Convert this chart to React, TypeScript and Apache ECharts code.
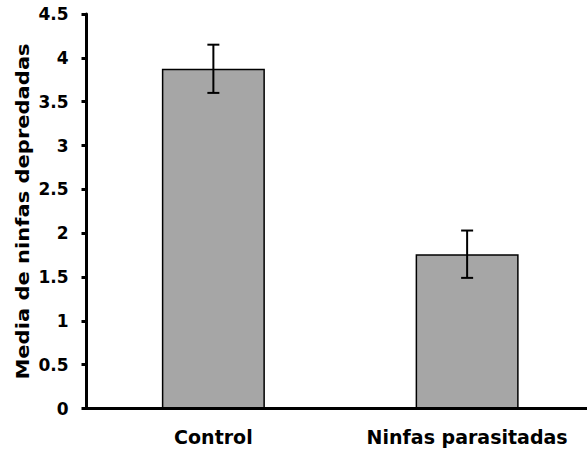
import React, { useEffect, useRef } from "react";
import * as echarts from "echarts";

const categories = ["Control", "Ninfas parasitadas"];
const means = [3.875, 1.76];
const errors = [0.275, 0.27];
const yTicks = { min: 0, max: 4.5, interval: 0.5 };

const FONT = "'DejaVu Sans', 'Liberation Sans', Arial, sans-serif";

export default function App() {
  const ref = useRef<HTMLDivElement>(null);

  useEffect(() => {
    document.body.style.margin = "0";
    if (!ref.current) return;
    const chart = echarts.init(ref.current, null, { renderer: "svg" });

    const errorData = categories.map((_, i) => [i, means[i] - errors[i], means[i] + errors[i]]);

    chart.setOption({
      animation: false,
      backgroundColor: "#ffffff",
      // the plot area runs a little past the visible right edge, as in the original figure
      grid: { left: 86.5, right: 1, top: 14, bottom: 40.5, containLabel: false },
      graphic: [
        {
          type: "text",
          x: 23.5,
          y: 211.5,
          rotation: Math.PI / 2,
          scaleX: 1.17,
          style: {
            text: "Media de ninfas depredadas",
            font: `bold 18px ${FONT}`,
            fill: "#000",
            align: "center",
            verticalAlign: "middle",
          },
        },
      ],
      xAxis: {
        type: "category",
        data: categories,
        axisLine: { show: true, lineStyle: { color: "#000", width: 3 } },
        axisTick: { show: false },
        axisLabel: {
          interval: 0,
          hideOverlap: false,
          color: "#000",
          fontFamily: FONT,
          fontWeight: "bold",
          fontSize: 19,
          margin: 19,
        },
        splitLine: { show: false },
      },
      yAxis: {
        type: "value",
        min: yTicks.min,
        max: yTicks.max,
        interval: yTicks.interval,
        axisLine: { show: true, lineStyle: { color: "#000", width: 3 } },
        axisTick: { show: true, length: 5, lineStyle: { color: "#000", width: 3 } },
        axisLabel: {
          color: "#000",
          fontFamily: FONT,
          fontWeight: "bold",
          fontSize: 17,
          margin: 18,
        },
        splitLine: { show: false },
      },
      series: [
        {
          type: "bar",
          data: means,
          barWidth: "40.6%",
          itemStyle: { color: "#a6a6a6", borderColor: "#000", borderWidth: 1.5 },
          z: 2,
        },
        {
          type: "custom",
          data: errorData,
          z: 3,
          renderItem: (params: any, api: any) => {
            const x = api.value(0);
            const low = api.coord([x, api.value(1)]);
            const high = api.coord([x, api.value(2)]);
            const cap = 6;
            const style = { stroke: "#000", lineWidth: 2 };
            return {
              type: "group",
              children: [
                { type: "line", shape: { x1: high[0], y1: high[1], x2: low[0], y2: low[1] }, style },
                { type: "line", shape: { x1: high[0] - cap, y1: high[1], x2: high[0] + cap, y2: high[1] }, style },
                { type: "line", shape: { x1: low[0] - cap, y1: low[1], x2: low[0] + cap, y2: low[1] }, style },
              ],
            };
          },
        },
      ],
    });

    return () => chart.dispose();
  }, []);

  return (
    <div style={{ width: 587, height: 449, overflow: "hidden" }}>
      <div ref={ref} style={{ width: 595, height: 449 }} />
    </div>
  );
}
